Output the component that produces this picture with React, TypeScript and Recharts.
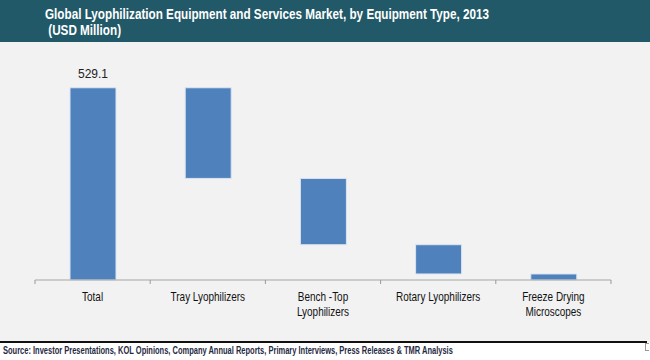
import { BarChart, Bar, XAxis, YAxis, LabelList } from "recharts";

const categories = [
  "Total",
  "Tray Lyophilizers",
  "Bench -Top\nLyophilizers",
  "Rotary Lyophilizers",
  "Freeze Drying\nMicroscopes",
];
const totalValue = 529.1;
const segmentValues = [529.1, 249.5, 182.5, 80.5, 16.6];
const baseValues = [0, 279.6, 97.1, 16.6, 0];

const data = categories.map((name, i) => ({
  name,
  base: baseValues[i],
  value: segmentValues[i],
}));

const font = "Arial, 'Liberation Sans', sans-serif";

function CategoryTick(props: any) {
  const { x, y, payload, index, visibleTicksCount } = props;
  const half = payload.offset || 0;
  const lines = String(payload.value).split("\n");
  return (
    <g>
      <line x1={x - half} y1={y - 8} x2={x - half} y2={y - 4} stroke="#999" />
      {index === visibleTicksCount - 1 && (
        <line x1={x + half} y1={y - 8} x2={x + half} y2={y - 4} stroke="#999" />
      )}
      <text
        transform={`translate(${x},${y + 13}) scale(0.83,1)`}
        textAnchor="middle"
        fontFamily={font}
        fontSize={12}
        fill="#111"
      >
        {lines.map((l, i) => (
          <tspan key={i} x={0} dy={i === 0 ? 0 : 15}>
            {l}
          </tspan>
        ))}
      </text>
    </g>
  );
}

function TotalLabel(props: any) {
  const { x, y, width, index } = props;
  if (index !== 0) return null;
  return (
    <text x={x + width / 2} y={y - 10} textAnchor="middle" fontFamily={font} fontSize={12} fill="#222">
      {totalValue}
    </text>
  );
}

export default function App() {
  return (
    <div style={{ position: "absolute", top: 0, left: 0, width: 650, height: 360, background: "#ffffff", overflow: "hidden" }}>
      <div style={{ position: "absolute", top: 0, left: 0, width: 650, height: 342, background: "#f2f2f2" }} />
      <div style={{ position: "absolute", top: 0, left: 0, width: 650, height: 42, background: "#215968" }} />
      <div
        style={{
          position: "absolute",
          top: 6,
          left: 45,
          color: "#ffffff",
          fontFamily: font,
          fontWeight: "bold",
          fontSize: 15,
          lineHeight: "16px",
          whiteSpace: "nowrap",
          transform: "scaleX(0.78)",
          transformOrigin: "0 0",
        }}
      >
        Global Lyophilization Equipment and Services Market, by Equipment Type, 2013
        <br />
        &nbsp;(USD Million)
      </div>
      <div style={{ position: "absolute", top: 0, left: 0 }}>
        <BarChart width={650} height={340} data={data} margin={{ top: 62, right: 39, left: 35, bottom: 20 }} barSize={46}>
          <XAxis
            dataKey="name"
            height={40}
            interval={0}
            tickLine={false}
            axisLine={{ stroke: "#a6a6a6" }}
            tick={<CategoryTick />}
          />
          <YAxis hide domain={[0, 600]} />
          <Bar dataKey="base" stackId="a" fill="transparent" isAnimationActive={false} />
          <Bar dataKey="value" stackId="a" fill="#4f81bd" stroke="#dbe5f1" strokeWidth={1} isAnimationActive={false}>
            <LabelList dataKey="value" content={<TotalLabel />} />
          </Bar>
        </BarChart>
      </div>
      <div style={{ position: "absolute", top: 341, left: 0, width: 647, height: 2, background: "#111" }} />
      <div style={{ position: "absolute", top: 343, left: 645, width: 4, height: 8, border: "1px solid #999", borderRight: "none", boxSizing: "border-box" }} />
      <div
        style={{
          position: "absolute",
          top: 344,
          left: 3,
          fontFamily: font,
          fontWeight: "bold",
          fontSize: 10,
          lineHeight: "13px",
          color: "#1f2a44",
          whiteSpace: "nowrap",
          transform: "scaleX(0.75)",
          transformOrigin: "0 0",
        }}
      >
        Source: Investor Presentations, KOL Opinions, Company Annual Reports, Primary Interviews, Press Releases &amp; TMR Analysis
      </div>
    </div>
  );
}
